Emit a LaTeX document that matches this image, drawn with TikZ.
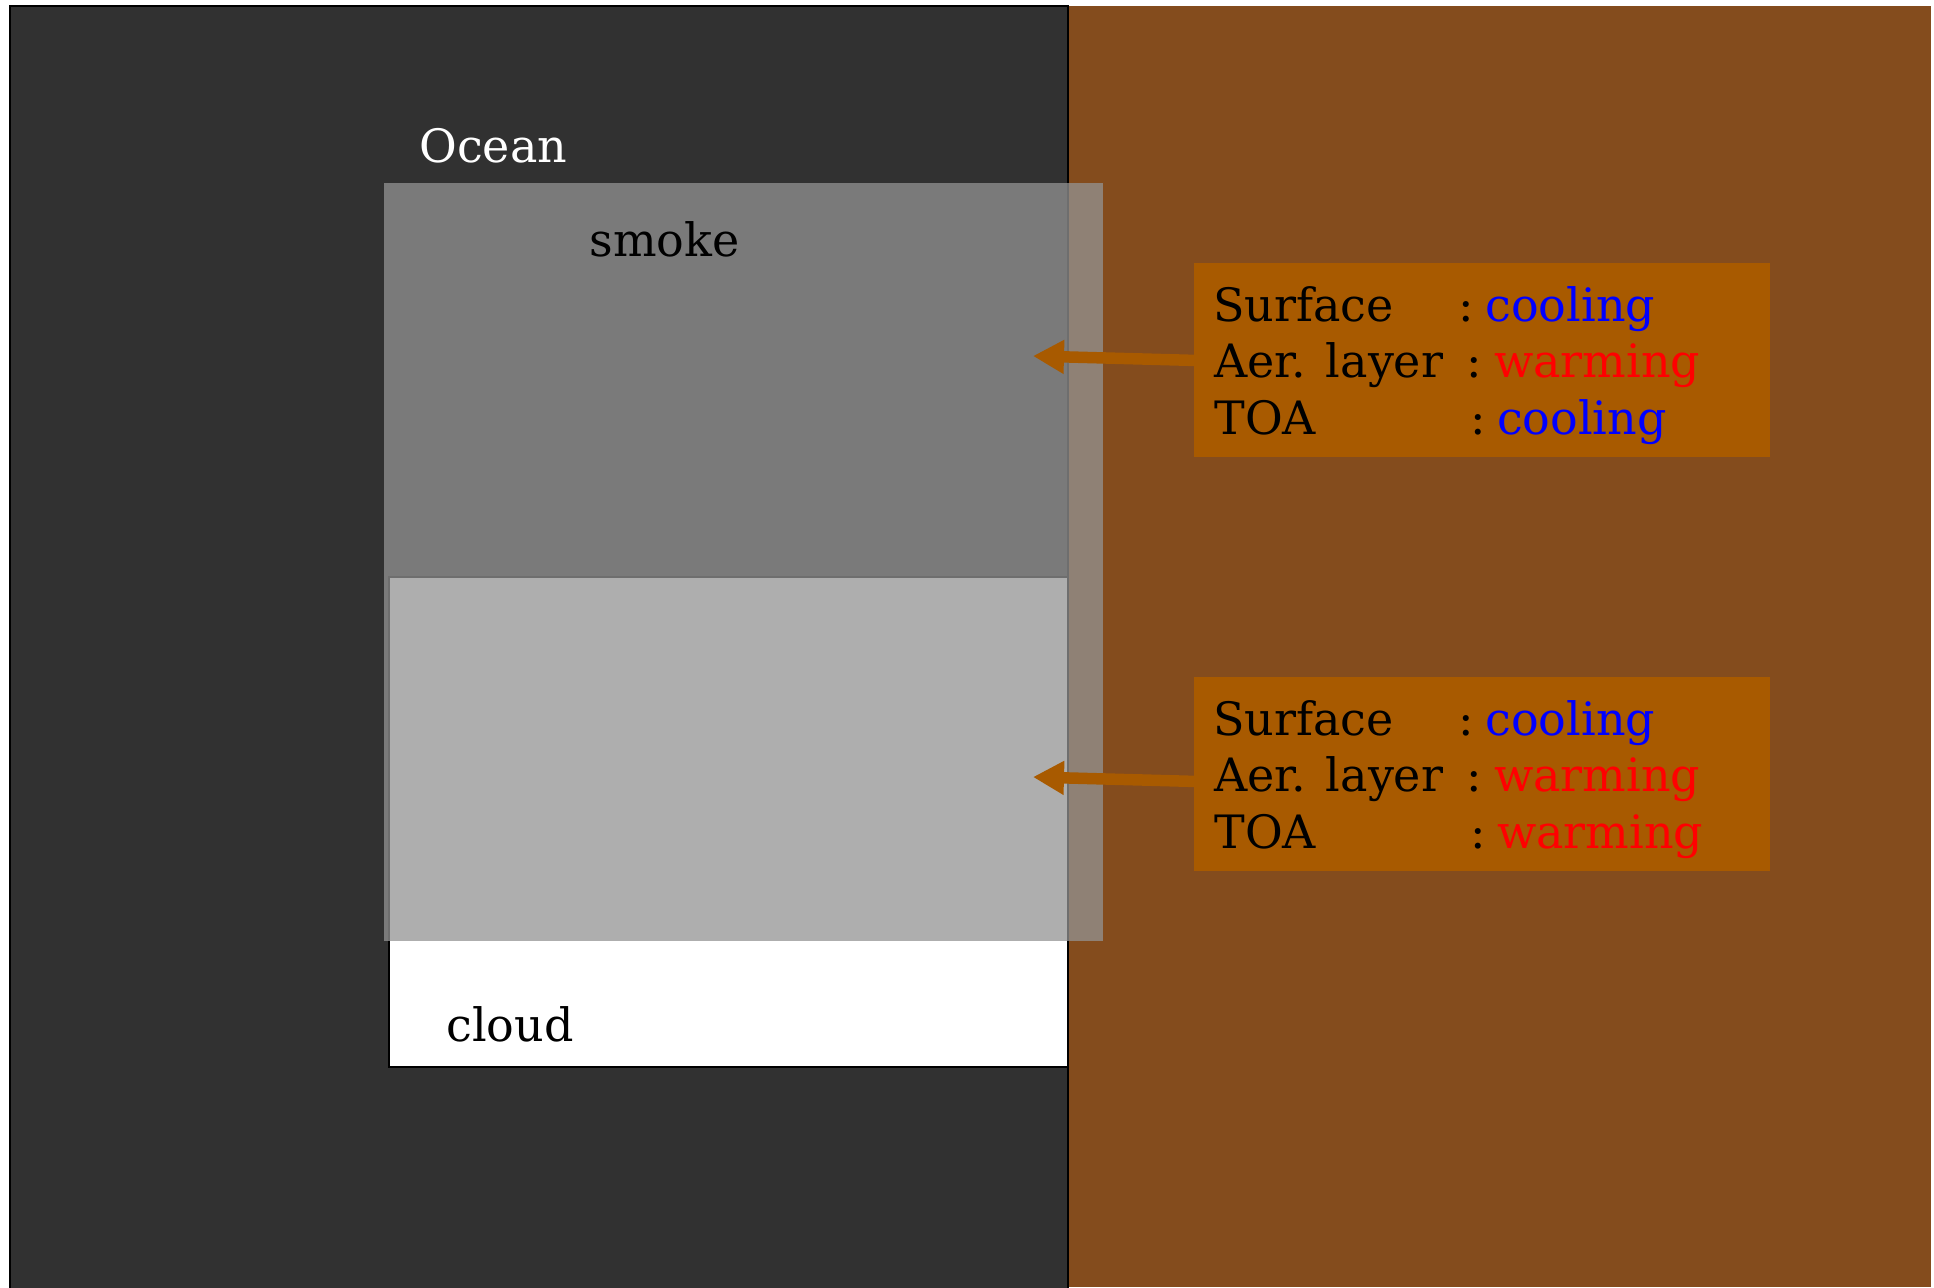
\documentclass[tikz,border=0pt]{standalone}
\usepackage{fontspec}
\setmainfont{DejaVu Serif}
\usetikzlibrary{arrows.meta}

\definecolor{oceanfill}{HTML}{313131}
\definecolor{landfill}{HTML}{844C1D}
\definecolor{notefill}{HTML}{A85A00}
\definecolor{smokegray}{RGB}{147,147,147}
\definecolor{coolblue}{HTML}{0000FF}
\definecolor{warmred}{HTML}{FF0000}

\newcommand{\coolword}{\textcolor{coolblue}{cooling}}
\newcommand{\warmword}{\textcolor{warmred}{warming}}
\newcommand{\effectline}[3]{\makebox[#1][l]{#2}:\hspace{5.8pt}#3}

\begin{document}
\begin{tikzpicture}[x=0.5pt,y=-0.5pt,
  lbl/.style={inner sep=0pt, anchor=base west, font=\fontsize{23}{27.6}\selectfont},
  notebox/.style={anchor=north west, inner sep=0pt, fill=notefill,
    minimum width=288pt, minimum height=97pt},
  effectarrow/.style={draw=notefill, line width=5.75pt,
    -{Triangle[length=15.5pt,width=16pt]}}]

\useasboundingbox (0,0) rectangle (1934,1287);
\fill[white] (0,0) rectangle (1934,1287);

% land and ocean
\fill[landfill] (1068,6) rectangle (1931,1287);
\draw[fill=oceanfill, line width=1pt] (10,6) rectangle (1068,1300);

% cloud layer
\draw[fill=white, line width=1pt] (389,577) rectangle (1068,1067);

% smoke layer, semi-transparent over everything below
\fill[smokegray, fill opacity=0.75] (384,183) rectangle (1103,941);

% labels
\node[lbl, text=white] (ocean) at (419,162) {Ocean};
\node[lbl] (smoke) at (589,256) {smoke};
\node[lbl] (cloud) at (446,1041) {cloud};

% effect boxes
\node[notebox] (fx1) at (1194,263) {};
\node[notebox] (fx2) at (1194,677) {};

\node[lbl] (fx1a) at (1213,321) {\effectline{122.5pt}{Surface}{\coolword}};
\node[lbl] (fx1b) at (1214,377) {\effectline{126.3pt}{Aer. layer}{\warmword}};
\node[lbl] (fx1c) at (1214,434) {\effectline{127.8pt}{TOA}{\coolword}};

\node[lbl] (fx2a) at (1213,735) {\effectline{122.5pt}{Surface}{\coolword}};
\node[lbl] (fx2b) at (1214,791) {\effectline{126.3pt}{Aer. layer}{\warmword}};
\node[lbl] (fx2c) at (1214,848) {\effectline{127.8pt}{TOA}{\warmword}};

% arrows pointing into the layers
\coordinate (tip1) at (1033,356);
\coordinate (tip2) at (1033,777);
\draw[effectarrow] (fx1.west) -- (tip1);
\draw[effectarrow] ([yshift=-3.5pt]fx2.west) -- (tip2);

\end{tikzpicture}
\end{document}
